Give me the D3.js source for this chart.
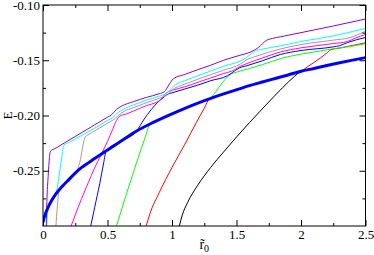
<!DOCTYPE html>
<html>
<head>
<meta charset="utf-8">
<script src="https://cdn.jsdelivr.net/npm/d3@7"></script>
<style>
  body { margin: 0; background: #fff; }
  svg { display: block; }
  svg text { font-family: "Liberation Serif", "Times New Roman", Times, "DejaVu Serif", serif; }
</style>
</head>
<body>
<svg id="chart"></svg>
<script>
'use strict';

const WIDTH = 374;
const HEIGHT = 255;
const LEFT = 43;
const RIGHT = 365.5;
const TOP = 5;
const BOTTOM = 226;
const FONT = "'Liberation Serif', 'Times New Roman', Times, serif";

// axis ticks
const xMajor = [0, 0.5, 1, 1.5, 2, 2.5];
const xMinor = [0.25, 0.75, 1.25, 1.75, 2.25];
const yMajor = [-0.25, -0.20, -0.15, -0.10];
const yMinor = [-0.275, -0.225, -0.175, -0.125];

// curves, [r0, E]
const thickBlue = [[0, -0.2965], [0.01, -0.292], [0.02, -0.2885], [0.05, -0.2805], [0.1, -0.271], [0.15, -0.264],
    [0.2, -0.258], [0.264, -0.2505], [0.3, -0.247], [0.4, -0.239], [0.49, -0.232], [0.6, -0.2235], [0.726, -0.214],
    [0.85, -0.2065], [1.0, -0.1985], [1.1, -0.1935], [1.2, -0.1888], [1.3, -0.1845], [1.4, -0.1805], [1.5, -0.1767],
    [1.6, -0.173], [1.7, -0.1697], [1.8, -0.1665], [1.9, -0.1633], [2.0, -0.16], [2.1, -0.1574], [2.2, -0.1548],
    [2.3, -0.1523], [2.4, -0.1499], [2.5, -0.1476]];

const violet = [[0.025, -0.3], [0.03, -0.278], [0.04, -0.255], [0.05, -0.238], [0.057, -0.2325], [0.1, -0.2295],
    [0.17, -0.2245], [0.25, -0.219], [0.3, -0.2155], [0.4, -0.2085], [0.5, -0.2015], [0.53, -0.1995], [0.57, -0.1945],
    [0.61, -0.1915], [0.7, -0.1875], [0.8, -0.1837], [0.9, -0.1803], [0.94, -0.1785], [0.98, -0.1715], [1.01, -0.1668],
    [1.1, -0.1628], [1.2, -0.1585], [1.3, -0.1545], [1.4, -0.15], [1.527, -0.1455], [1.62, -0.142], [1.67, -0.1385],
    [1.73, -0.1322], [1.78, -0.1302], [1.84, -0.1288], [2.0, -0.125], [2.25, -0.119], [2.5, -0.1127]];

const cyan = [[0.029, -0.3], [0.034, -0.29], [0.04, -0.2832], [0.05, -0.2805], [0.1, -0.271], [0.115, -0.2625],
    [0.13, -0.25], [0.145, -0.238], [0.163, -0.2265], [0.2, -0.2245], [0.25, -0.2212], [0.3, -0.218], [0.4, -0.2115],
    [0.5, -0.2045], [0.54, -0.202], [0.58, -0.1975], [0.62, -0.1945], [0.7, -0.1905], [0.8, -0.1862], [0.9, -0.1825],
    [0.95, -0.1805], [0.99, -0.1765], [1.03, -0.172], [1.1, -0.1685], [1.2, -0.164], [1.3, -0.1597], [1.4, -0.1555],
    [1.5, -0.152], [1.55, -0.1495], [1.6, -0.1455], [1.64, -0.142], [1.7, -0.14], [1.84, -0.137], [2.0, -0.133],
    [2.25, -0.128], [2.4, -0.124], [2.5, -0.1212]];

const brown = [[0.1, -0.3], [0.11, -0.284], [0.125, -0.2675], [0.15, -0.264], [0.2, -0.258], [0.25, -0.2517],
    [0.27, -0.248], [0.29, -0.24], [0.31, -0.227], [0.326, -0.2195], [0.35, -0.2175], [0.4, -0.214], [0.5, -0.207],
    [0.55, -0.2035], [0.59, -0.1995], [0.63, -0.1962], [0.7, -0.193], [0.8, -0.1885], [0.9, -0.1845], [0.95, -0.1822],
    [0.98, -0.1798], [1.01, -0.1762], [1.05, -0.1738], [1.1, -0.1715], [1.2, -0.1672], [1.3, -0.163], [1.4, -0.159],
    [1.5, -0.1552], [1.53, -0.1535], [1.58, -0.1495], [1.65, -0.1465], [1.84, -0.1398], [2.0, -0.1358],
    [2.25, -0.1318], [2.38, -0.1295], [2.44, -0.1268], [2.5, -0.1238]];

const magenta = [[0.218, -0.3], [0.25, -0.29], [0.3, -0.275], [0.35, -0.261], [0.4, -0.2475], [0.45, -0.2355],
    [0.5, -0.2235], [0.54, -0.2125], [0.57, -0.2045], [0.597, -0.2005], [0.65, -0.1985], [0.7, -0.196], [0.8, -0.1912],
    [0.88, -0.188], [0.91, -0.186], [0.94, -0.1815], [0.97, -0.1785], [1.0, -0.1772], [1.1, -0.174], [1.2, -0.17],
    [1.3, -0.166], [1.4, -0.162], [1.48, -0.159], [1.53, -0.1555], [1.58, -0.153], [1.7, -0.148], [1.84, -0.1425],
    [2.0, -0.1388], [2.25, -0.1349], [2.36, -0.133], [2.42, -0.13], [2.5, -0.1267]];

const blue = [[0.37, -0.3], [0.4, -0.2835], [0.44, -0.2615], [0.47, -0.243], [0.49, -0.232], [0.6, -0.2235],
    [0.726, -0.214], [0.78, -0.204], [0.84, -0.1945], [0.89, -0.188], [0.93, -0.184], [0.97, -0.1805], [1.0, -0.1795],
    [1.1, -0.176], [1.2, -0.1725], [1.3, -0.1685], [1.43, -0.164], [1.47, -0.161], [1.52, -0.157], [1.58, -0.155],
    [1.7, -0.1505], [1.84, -0.1448], [2.0, -0.1412], [2.25, -0.1379], [2.3, -0.1368], [2.36, -0.134], [2.5, -0.1294]];

const green = [[0.57, -0.3], [0.62, -0.281], [0.68, -0.259], [0.74, -0.2375], [0.79, -0.2205], [0.83, -0.2077],
    [0.85, -0.2065], [1.0, -0.1985], [1.1, -0.1935], [1.2, -0.1888], [1.29, -0.1849], [1.33, -0.18], [1.37, -0.1735],
    [1.41, -0.1675], [1.45, -0.163], [1.5, -0.1608], [1.6, -0.1575], [1.7, -0.154], [1.84, -0.1485], [2.0, -0.1445],
    [2.1, -0.1425], [2.25, -0.1397], [2.3, -0.1388], [2.4, -0.1372], [2.5, -0.135]];

const red = [[0.8, -0.3], [0.83, -0.2885], [0.9, -0.27], [1.0, -0.247], [1.1, -0.226], [1.19, -0.206],
    [1.25, -0.1935], [1.29, -0.1849], [1.4, -0.1805], [1.5, -0.1767], [1.6, -0.173], [1.7, -0.1697], [1.8, -0.1665],
    [1.9, -0.1633], [2.0, -0.16], [2.05, -0.156], [2.1, -0.152], [2.15, -0.148], [2.2, -0.1435], [2.23, -0.1405],
    [2.3, -0.139], [2.4, -0.1366], [2.5, -0.1342]];

const black = [[1.057, -0.3], [1.08, -0.29], [1.12, -0.279], [1.2, -0.263], [1.3, -0.247], [1.4, -0.233],
    [1.5, -0.2195], [1.6, -0.2065], [1.72, -0.1915], [1.86, -0.1745], [1.95, -0.1645], [2.0, -0.16], [2.1, -0.1574],
    [2.2, -0.1548], [2.3, -0.1523], [2.4, -0.1499], [2.5, -0.1476]];

const curves = [
    { data: black, color: "#000000", width: 1 },
    { data: red, color: "#ff0000", width: 1 },
    { data: green, color: "#00ff00", width: 1 },
    { data: blue, color: "#0000ff", width: 1 },
    { data: magenta, color: "#ff00ff", width: 1 },
    { data: brown, color: "#bc8f8f", width: 1 },
    { data: cyan, color: "#00ffff", width: 1 },
    { data: violet, color: "#9400d3", width: 1 },
    { data: thickBlue, color: "#0000ff", width: 3 }
];

const svg = d3.select("svg#chart")
              .attr("width", WIDTH)
              .attr("height", HEIGHT);

const xScale = d3.scaleLinear().domain([0, 2.5]).range([LEFT, RIGHT]);
const yScale = d3.scaleLinear().domain([-0.30, -0.10]).range([BOTTOM, TOP]);

svg.append("defs").append("clipPath")
   .attr("id", "plotClip")
   .append("rect")
   .attr("x", LEFT).attr("y", TOP)
   .attr("width", RIGHT - LEFT).attr("height", BOTTOM - TOP);

const line = d3.line()
               .x(d => xScale(d[0]))
               .y(d => yScale(d[1]))
               .curve(d3.curveMonotoneX);

const plot = svg.append("g").attr("clip-path", "url(#plotClip)");
curves.forEach(c => {
    plot.append("path")
        .datum(c.data)
        .attr("fill", "none")
        .attr("stroke", c.color)
        .attr("stroke-width", c.width)
        .attr("stroke-linejoin", "round")
        .attr("d", line);
});

// frame
svg.append("rect")
   .attr("x", LEFT).attr("y", TOP)
   .attr("width", RIGHT - LEFT).attr("height", BOTTOM - TOP)
   .attr("fill", "none")
   .attr("stroke", "#000")
   .attr("stroke-width", 1);

const addAxis = (axis, tx, ty) => {
    const g = svg.append("g")
                 .attr("transform", "translate(" + tx + "," + ty + ")")
                 .call(axis)
                 .attr("font-family", FONT)
                 .attr("font-size", 13);
    g.select(".domain").remove();
    g.selectAll("line").attr("stroke", "#000");
    g.selectAll("text")
     .attr("fill", "#000")
     .style("font-family", FONT)
     .style("font-size", "13px");
    return g;
};

// bottom and left with labels
addAxis(d3.axisBottom(xScale).tickValues(xMajor).tickSize(-6).tickPadding(4).tickFormat(d => String(d)), 0, BOTTOM);
addAxis(d3.axisBottom(xScale).tickValues(xMinor).tickSize(-3).tickFormat(""), 0, BOTTOM);
addAxis(d3.axisLeft(yScale).tickValues(yMajor).tickSize(-6).tickPadding(3).tickFormat(d => d.toFixed(2)), LEFT, 0);
addAxis(d3.axisLeft(yScale).tickValues(yMinor).tickSize(-3).tickFormat(""), LEFT, 0);

// top and right mirror ticks
addAxis(d3.axisTop(xScale).tickValues(xMajor).tickSize(-6).tickFormat(""), 0, TOP);
addAxis(d3.axisTop(xScale).tickValues(xMinor).tickSize(-3).tickFormat(""), 0, TOP);
addAxis(d3.axisRight(yScale).tickValues(yMajor).tickSize(-6).tickFormat(""), RIGHT, 0);
addAxis(d3.axisRight(yScale).tickValues(yMinor).tickSize(-3).tickFormat(""), RIGHT, 0);

// axis titles
const xTitle = svg.append("text")
                  .attr("x", (LEFT + RIGHT) / 2)
                  .attr("y", 249)
                  .attr("text-anchor", "middle")
                  .style("font-family", FONT)
                  .style("font-size", "14px");
xTitle.append("tspan").text("r\u0303");
xTitle.append("tspan").style("font-size", "10px").attr("dy", 3).text("0");

svg.append("text")
   .attr("transform", "translate(12," + (TOP + BOTTOM) / 2 + ") rotate(-90)")
   .attr("text-anchor", "middle")
   .style("font-family", FONT)
   .style("font-size", "13px")
   .text("E");
</script>
</body>
</html>
